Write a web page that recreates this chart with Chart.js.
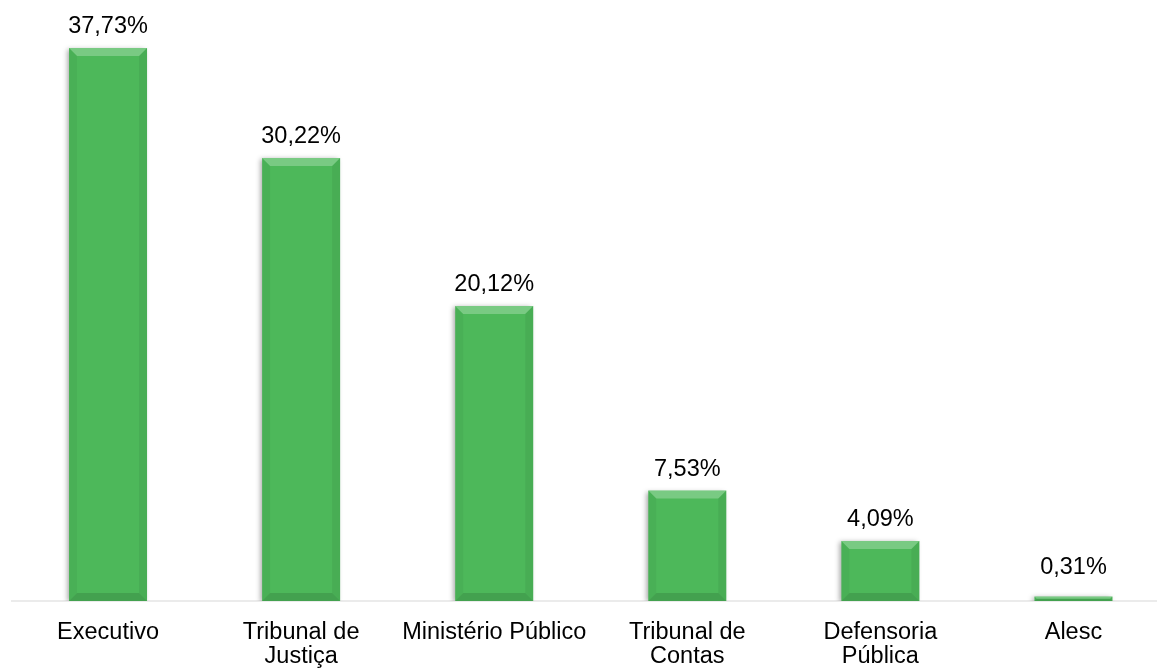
<!DOCTYPE html>
<html>
<head>
<meta charset="utf-8">
<script src="https://cdn.jsdelivr.net/npm/chart.js@4"></script>
<style>
  html, body { margin: 0; padding: 0; background: #fff; overflow: hidden; }
  #wrap { width: 1157px; height: 668px; overflow: hidden; }
</style>
</head>
<body>
<div id="wrap"><canvas id="chart" width="1170" height="668"></canvas></div>
<script>
const categories = [
    "Executivo",
    ["Tribunal de", "Justiça"],
    "Ministério Público",
    ["Tribunal de", "Contas"],
    ["Defensoria", "Pública"],
    "Alesc"
]
const shares = [37.73, 30.22, 20.12, 7.53, 4.09, 0.31]

const barGreen = "#4db85a"

// value labels over each bar, "37,73%" style
const valueLabels = {
    id: "valueLabels",
    afterDatasetsDraw(chart) {
        const ctx = chart.ctx
        const meta = chart.getDatasetMeta(0)
        ctx.save()
        ctx.font = "23.5px 'Liberation Sans', Arial"
        ctx.fillStyle = "#000"
        ctx.textAlign = "center"
        ctx.textBaseline = "alphabetic"
        meta.data.forEach((bar, i) => {
            const txt = shares[i].toFixed(2).replace(".", ",") + "%"
            // tiny bars get their label lifted a bit, like the original
            const y = Math.min(bar.y - 15, bar.base - 27)
            ctx.fillText(txt, bar.x, y)
        })
        ctx.restore()
    }
}

// shadow + bevel look of the original bars
const bevel = {
    id: "bevel",
    beforeDatasetDraw(chart) {
        const ctx = chart.ctx
        ctx.save()
        ctx.shadowColor = "rgba(0,0,0,0.35)"
        ctx.shadowBlur = 5
        ctx.shadowOffsetX = -2
        ctx.shadowOffsetY = 1
    },
    afterDatasetDraw(chart) {
        const ctx = chart.ctx
        ctx.restore()
        const meta = chart.getDatasetMeta(0)
        ctx.save()
        meta.data.forEach(bar => {
            const p = bar.getProps(["x", "y", "base", "width"], true)
            const l = p.x - p.width / 2, r = p.x + p.width / 2
            const t = p.y, b = p.base
            const d = Math.min(8, (b - t) / 2)
            const poly = (pts, fill) => {
                ctx.beginPath()
                ctx.moveTo(pts[0][0], pts[0][1])
                for (let k = 1; k < pts.length; k++) ctx.lineTo(pts[k][0], pts[k][1])
                ctx.closePath()
                ctx.fillStyle = fill
                ctx.fill()
            }
            poly([[l, t], [r, t], [r - d, t + d], [l + d, t + d]], "rgba(255,255,255,0.25)")
            poly([[l, t], [l + d, t + d], [l + d, b - d], [l, b]], "rgba(0,0,0,0.04)")
            poly([[r, t], [r - d, t + d], [r - d, b - d], [r, b]], "rgba(0,0,0,0.06)")
            poly([[l, b], [l + d, b - d], [r - d, b - d], [r, b]], "rgba(0,0,0,0.12)")
        })
        ctx.restore()
    }
}

Chart.defaults.font.family = "'Liberation Sans', Arial, sans-serif"
Chart.defaults.color = "#000"

new Chart("chart", {
    type: "bar",
    data: {
        labels: categories,
        datasets: [{
            data: shares,
            backgroundColor: barGreen,
            borderWidth: 0,
            barPercentage: 0.404,
            categoryPercentage: 1
        }]
    },
    options: {
        responsive: false,
        animation: false,
        layout: { padding: { left: 11.5, right: 0, top: 0, bottom: 0 } },
        plugins: {
            legend: { display: false },
            tooltip: { enabled: false }
        },
        scales: {
            x: {
                grid: { display: false, drawTicks: false },
                border: { display: true, color: "#ebebeb", width: 2 },
                ticks: {
                    font: { size: 23.5, lineHeight: 1.045 },
                    color: "#000",
                    padding: 19,
                    autoSkip: false,
                    maxRotation: 0
                },
                afterFit(scale) { scale.height = 67 }
            },
            y: {
                display: false,
                min: 0,
                max: 41
            }
        }
    },
    plugins: [bevel, valueLabels]
})
</script>
</body>
</html>
